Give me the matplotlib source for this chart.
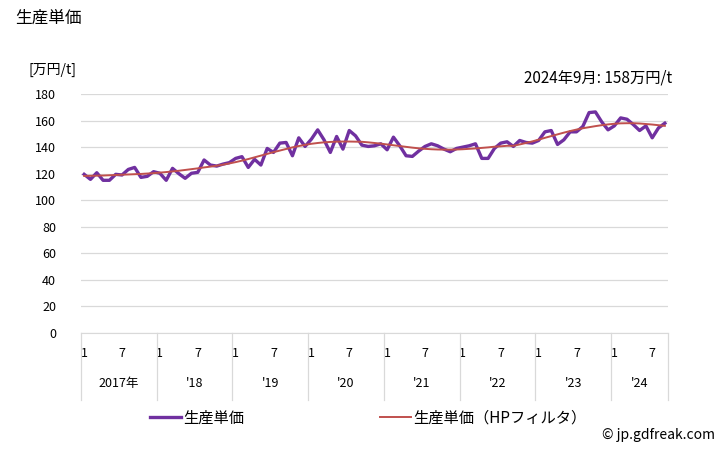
import numpy as np
import matplotlib
matplotlib.use("Agg")
import matplotlib.pyplot as plt
import matplotlib.transforms as mtransforms

plt.rcParams["font.family"] = ["Noto Sans CJK JP", "DejaVu Sans"]

# monthly unit price, Jan 2017 - Sep 2024 (万円/t)
price = [
    119.5, 115.7, 120.7, 115.0, 115.0, 119.5, 119.0, 123.2, 124.7, 117.2, 118.0, 121.5,  # 2017
    120.3, 115.0, 124.0, 120.0, 116.5, 120.3, 121.0, 130.3, 126.5, 125.7, 127.2, 128.3,  # 2018
    131.5, 132.8, 124.7, 130.8, 126.5, 139.0, 136.0, 143.0, 143.5, 133.5, 147.0, 140.5,  # 2019
    146.0, 153.0, 145.5, 136.0, 148.0, 138.5, 152.5, 148.5, 141.5, 140.5, 141.0, 142.5,  # 2020
    138.0, 147.5, 141.0, 133.5, 133.0, 137.0, 140.5, 142.5, 141.0, 138.5, 136.5, 139.0,  # 2021
    140.0, 141.0, 142.5, 131.5, 131.5, 139.0, 143.0, 144.0, 140.5, 145.0, 143.5, 143.0,  # 2022
    145.0, 151.5, 152.5, 142.0, 145.5, 151.5, 151.5, 155.5, 166.0, 166.5, 159.0, 153.0,  # 2023
    156.0, 162.0, 161.0, 157.0, 152.5, 156.0, 147.0, 154.5, 158.0,                       # 2024
]

# HP filter trend
trend = [
    118.3, 118.4, 118.5, 118.6, 118.8, 119.0, 119.2, 119.4, 119.6, 119.8, 120.1, 120.4,
    120.8, 121.2, 121.7, 122.2, 122.8, 123.4, 124.0, 124.7, 125.3, 126.0, 126.8, 127.7,
    128.7, 129.8, 131.0, 132.3, 133.6, 134.9, 136.2, 137.4, 138.6, 139.8, 140.8, 141.7,
    142.5, 143.1, 143.6, 143.9, 144.1, 144.2, 144.2, 144.1, 144.0, 143.6, 143.1, 142.6,
    142.0, 141.4, 140.8, 140.2, 139.6, 139.1, 138.7, 138.4, 138.2, 138.1, 138.1, 138.2,
    138.4, 138.7, 139.0, 139.4, 139.8, 140.3, 140.6, 141.0, 141.0, 142.0, 143.1, 144.3,
    145.6, 147.0, 148.3, 149.6, 150.9, 152.1, 153.2, 154.2, 155.0, 155.8, 156.5, 157.1,
    157.6, 157.9, 158.0, 158.0, 157.8, 157.4, 157.0, 156.5, 156.0,
]

years = ["2017年", "'18", "'19", "'20", "'21", "'22", "'23", "'24"]
yticks = [0, 20, 40, 60, 80, 100, 120, 140, 160, 180]

x = np.arange(len(price))
months = [i % 12 + 1 for i in x]

fig = plt.figure(figsize=(7.28, 4.5), dpi=100)
ax = fig.add_axes([81 / 728, 1 - 333 / 450, 587 / 728, 239 / 450])

l1, = ax.plot(x, price, color="#7030A0", lw=2.4, label="生産単価", zorder=3)
l2, = ax.plot(x, trend, color="#C0504D", lw=1.4, label="生産単価（HPフィルタ）", zorder=4)

ax.set_xlim(-0.5, len(price) - 0.5)
ax.set_ylim(0, 180)
ax.set_yticks(yticks)
ax.tick_params(axis="y", length=0, labelsize=9, pad=18)
ax.yaxis.grid(True, color="#d9d9d9", lw=0.9)
ax.set_axisbelow(True)
for s in ["top", "right", "left"]:
    ax.spines[s].set_visible(False)
ax.spines["bottom"].set_color("#d9d9d9")

# month ticks (1 and 7)
pos = [i for i in x if months[i] in (1, 7)]
ax.set_xticks(pos)
ax.set_xticklabels([str(months[i]) for i in pos], fontsize=9)
ax.tick_params(axis="x", length=0, pad=10)

# year separators and labels
trans = mtransforms.blended_transform_factory(ax.transData, ax.transAxes)
bounds = list(range(0, len(price), 12)) + [len(price)]
for b in bounds:
    ax.plot([b - 0.5, b - 0.5], [0, -0.28], color="#d9d9d9", lw=0.9,
            transform=trans, clip_on=False)
for k, lab in enumerate(years):
    c = (bounds[k] + bounds[k + 1] - 1) / 2
    ax.text(c, -0.21, lab, transform=trans, ha="center", va="center", fontsize=9)

fig.text(15 / 728, 1 - 18 / 450, "生産単価", fontsize=12, va="center", ha="left")
fig.text(28 / 728, 1 - 70 / 450, "[万円/t]", fontsize=10, va="center", ha="left")
fig.text(672 / 728, 1 - 78 / 450, "2024年9月: 158万円/t", fontsize=11, va="center", ha="right")

# legend entries placed separately, like the original
for line, xpos in [(l1, 150), (l2, 380)]:
    leg = fig.legend(handles=[line], loc="center left",
                     bbox_to_anchor=(xpos / 728, 1 - 418 / 450), frameon=False,
                     fontsize=11, handlelength=2.0, handletextpad=0.2,
                     borderpad=0, borderaxespad=0)

fig.text(715 / 728, 1 - 435 / 450, "© jp.gdfreak.com", fontsize=10, va="center", ha="right")

fig.savefig("out.png", dpi=100)
